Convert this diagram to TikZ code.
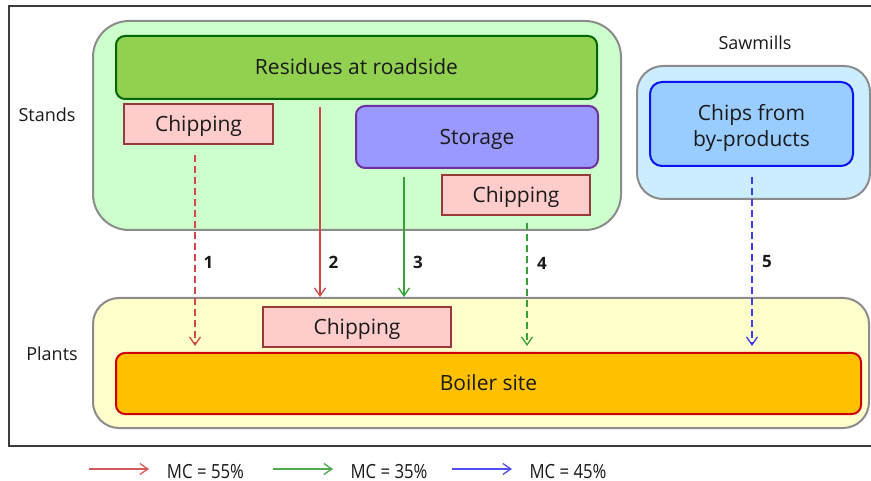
\documentclass[tikz,border=0pt]{standalone}
\usepackage{fontspec}
\setmainfont{Open Sans}
\usetikzlibrary{arrows.meta}

\definecolor{standsfill}{HTML}{CCFFCC}
\definecolor{sawfill}{HTML}{CCECFF}
\definecolor{plantfill}{HTML}{FFFFCC}
\definecolor{groupline}{HTML}{8C8C8C}
\definecolor{resfill}{HTML}{92D050}
\definecolor{resline}{HTML}{006600}
\definecolor{chipfill}{HTML}{FFCCCC}
\definecolor{chipline}{HTML}{993A3A}
\definecolor{storfill}{HTML}{9999FF}
\definecolor{storline}{HTML}{7030A0}
\definecolor{byfill}{HTML}{99CCFF}
\definecolor{byline}{HTML}{0A14F0}
\definecolor{boilfill}{HTML}{FFC000}
\definecolor{boilline}{HTML}{CC0000}
\definecolor{flowred}{HTML}{D04848}
\definecolor{flowgreen}{HTML}{38A038}
\definecolor{flowblue}{HTML}{3C3CF0}
\definecolor{ink}{HTML}{1A1A1A}

\tikzset{
  group/.style={draw=groupline, line width=2pt, rounded corners=#1, inner sep=0pt},
  % caps of the 21pt face are 15pt high: centre them in the boxes
  boxtext/.style={text=ink, font=\fontsize{21}{26}\selectfont, text height=15pt, text depth=0pt},
  box/.style={boxtext, rounded corners=9pt, line width=2pt, inner sep=0pt},
  chipbox/.style={boxtext, fill=chipfill, draw=chipline, line width=2pt, inner sep=0pt},
  side/.style={text=ink, font=\fontsize{18}{22}\selectfont, inner sep=0pt},
  flow/.style={line width=1.3pt, -{Straight Barb[length=8pt,width=11pt]}},
  dashflow/.style={flow, dash pattern=on 7pt off 4pt},
  num/.style={text=ink, font=\fontsize{17}{19}\selectfont\bfseries, inner sep=0pt},
  legend/.style={text=ink, font=\fontsize{19.5}{22}\selectfont, inner sep=0pt, text height=14pt, text depth=0pt},
}

\begin{document}
\begin{tikzpicture}[x=1pt, y=-1pt]
  \clip (0,0) rectangle (871,481);
  \fill[white] (0,0) rectangle (871,481);

  % outer frame, open to the right
  \draw[line width=1.5pt, ink!85] (890,6) -- (9,6) -- (9,446) -- (890,446);

  % group areas
  \node[group=36pt, fill=standsfill, minimum width=528pt, minimum height=209pt] (stands) at (357,125.5) {};
  \node[group=26pt, fill=sawfill, minimum width=233pt, minimum height=133pt] (sawmills) at (753.5,132.5) {};
  \node[group=26pt, fill=plantfill, minimum width=776pt, minimum height=130pt] (plants) at (481,363) {};

  % group labels
  \node[side] (standslbl) at (47,115) {Stands};
  \node[side] (sawlbl) at (755,43) {Sawmills};
  \node[side] (plantslbl) at (52,354) {Plants};

  % stands content
  \node[box, fill=resfill, draw=resline, minimum width=481pt, minimum height=63pt] (res) at (356.5,67.5) {Residues at roadside};
  \node[chipbox, minimum width=149pt, minimum height=40pt] (chip1) at (198.5,124) {Chipping};
  \node[box, fill=storfill, draw=storline, minimum width=242pt, minimum height=62pt] (stor) at (477,137) {Storage};
  \node[chipbox, minimum width=148pt, minimum height=40pt] (chip2) at (516,195) {Chipping};

  % sawmill content: box, then its two-line caption
  \node[box, rounded corners=12pt, fill=byfill, draw=byline, minimum width=203pt, minimum height=84pt] (byprod) at (751.5,124) {};
  \node[text=ink, font=\fontsize{21}{26}\selectfont, align=center, inner sep=0pt] (byprodtxt) at (751.5,128) {Chips from\\by-products};

  % plant content
  \node[chipbox, minimum width=188pt, minimum height=40pt] (chip3) at (357,327) {Chipping};
  \node[box, fill=boilfill, draw=boilline, minimum width=745pt, minimum height=61pt] (boiler) at (488.5,383.5) {Boiler site};

  % flow columns
  \coordinate (c1) at (195,0);
  \coordinate (c2) at (320,0);
  \coordinate (c3) at (404,0);
  \coordinate (c4) at (527,0);
  \coordinate (c5) at (752,0);

  % flows
  \draw[dashflow, flowred] ([yshift=-10pt]c1 |- chip1.south) -- ([yshift=6pt]c1 |- boiler.north);
  \draw[flow, flowred] ([yshift=-7pt]c2 |- res.south) -- (c2 |- plants.north);
  \draw[flow, flowgreen] ([yshift=-8pt]c3 |- stor.south) -- (c3 |- plants.north);
  \draw[dashflow, flowgreen] ([yshift=-7pt]c4 |- chip2.south) -- ([yshift=6pt]c4 |- boiler.north);
  \draw[dashflow, flowblue] ([yshift=-10pt]c5 |- byprod.south) -- ([yshift=6pt]c5 |- boiler.north);

  % flow numbers
  \node[num] (n1) at (208.5,262) {1};
  \node[num] (n2) at (333.5,262) {2};
  \node[num] (n3) at (418,262) {3};
  \node[num] (n4) at (542,263) {4};
  \node[num] (n5) at (767,262) {5};

  % legend
  \coordinate (la1) at (89,469);  \coordinate (lb1) at (149,469);
  \coordinate (la2) at (273,469); \coordinate (lb2) at (333,469);
  \coordinate (la3) at (452,469); \coordinate (lb3) at (512,469);
  \draw[flow, flowred!90!white] (la1) -- (lb1);
  \draw[flow, flowgreen!90!white] (la2) -- (lb2);
  \draw[flow, flowblue!90!white] (la3) -- (lb3);
  \node[legend] (mc55) at (205.5,471) {\scalebox{0.86}[1]{MC = 55\%}};
  \node[legend] (mc35) at (389,471) {\scalebox{0.86}[1]{MC = 35\%}};
  \node[legend] (mc45) at (568,471) {\scalebox{0.86}[1]{MC = 45\%}};
\end{tikzpicture}
\end{document}
